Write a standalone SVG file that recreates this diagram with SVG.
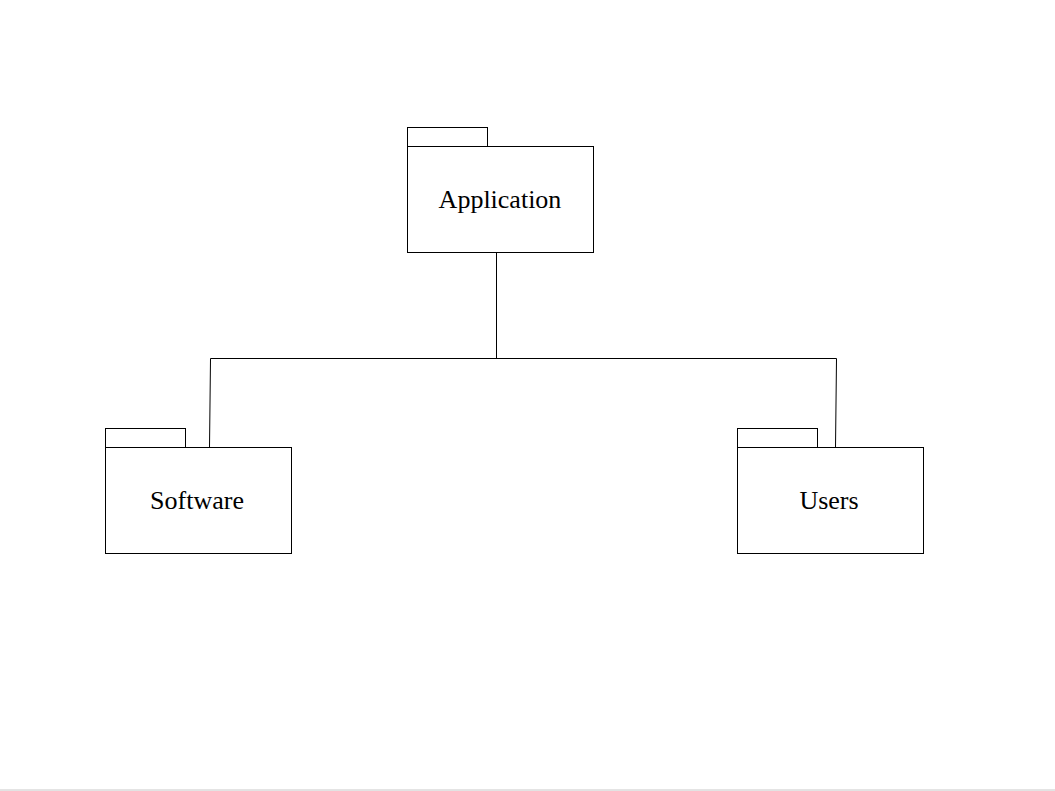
<svg xmlns="http://www.w3.org/2000/svg" width="1055" height="791" viewBox="0 0 1055 791">
<style>
.box{fill:#fff;stroke:#000;stroke-width:1}
.lbl{font-family:"Liberation Serif","Times New Roman",serif;font-size:26px;fill:#000;text-anchor:middle}
.conn{fill:none;stroke:#000;stroke-width:1}
</style>
<rect width="1055" height="791" fill="#fff"/>
<g id="connectors">
<path class="conn" d="M496.5,252.5 V358.5"/>
<path class="conn" d="M210.5,358.5 H836.5"/>
<path class="conn" d="M210.5,358.5 L209.5,447.5"/>
<path class="conn" d="M836.5,358.5 L835.5,447.5"/>
</g>
<g id="application">
<rect class="box" x="407.5" y="127.5" width="80" height="19"/>
<rect class="box" x="407.5" y="146.5" width="186" height="106"/>
<text class="lbl" x="500" y="208">Application</text>
</g>
<g id="software">
<rect class="box" x="105.5" y="428.5" width="80" height="19"/>
<rect class="box" x="105.5" y="447.5" width="186" height="106"/>
<text class="lbl" x="197" y="509">Software</text>
</g>
<g id="users">
<rect class="box" x="737.5" y="428.5" width="80" height="19"/>
<rect class="box" x="737.5" y="447.5" width="186" height="106"/>
<text class="lbl" x="829" y="509">Users</text>
</g>
<line x1="0" y1="790" x2="1055" y2="790" stroke="#c8c8c8" stroke-width="1"/>
</svg>
